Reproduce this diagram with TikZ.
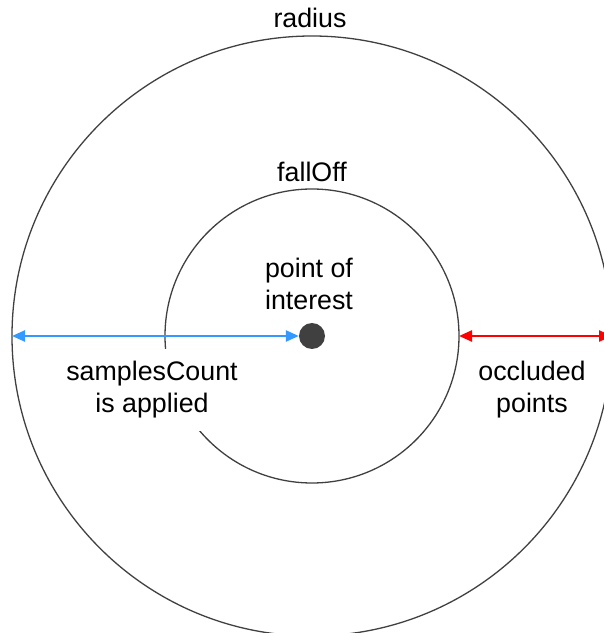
\documentclass[tikz,border=0pt]{standalone}
\usepackage{fontspec}
\setmainfont{Liberation Sans}
\usetikzlibrary{calc, arrows.meta, positioning}

\begin{document}
\begin{tikzpicture}[
    x=1pt, y=1pt,
    % Estilos
    ring/.style={draw=black!75, line width=1.3pt},
    dot poi/.style={circle, fill=black!75, inner sep=0pt, minimum size=26pt},
    label txt/.style={font=\fontsize{26.8}{32}\selectfont, align=center, inner sep=0pt},
    label box/.style={label txt, fill=white, inner sep=13pt},
    arrow samples/.style={{Triangle[length=13pt, width=11pt]}-{Triangle[length=13pt, width=11pt]}, line width=2.4pt, color={rgb,255:red,51;green,153;blue,255}},
    arrow occluded/.style={{Triangle[length=13pt, width=11pt]}-{Triangle[length=13pt, width=11pt]}, line width=2.4pt, red}
]
    \useasboundingbox (0,0) rectangle (604,633);
    \clip (0,0) rectangle (604,633);

    % =========================================================================
    % 1. Centro y circulos
    % =========================================================================
    \coordinate (c) at (312, 297);
    \draw[ring] (c) circle (300);
    \draw[ring] (c) circle (147);

    \coordinate (outerW) at ($(c)+(-300,0)$);
    \coordinate (innerE) at ($(c)+(147,0)$);
    \coordinate (outerE) at ($(c)+(300,0)$);

    % =========================================================================
    % 2. Etiquetas
    % =========================================================================
    \node[label txt] (radius) at (310, 615) {radius};
    \node[label txt] (falloff) at (312, 461) {fallOff};
    \node[label txt] (poiTxt) at (309, 349) {point of\\interest};
    \node[label box] (samples) at (152, 243) {samplesCount\\is applied};
    \node[label txt] (occluded) at (532, 243) {occluded\\points};

    % =========================================================================
    % 3. Punto de interes y flechas
    % =========================================================================
    \node[dot poi] (poi) at (c) {};
    \draw[arrow samples] (outerW) -- (poi.west);
    \draw[arrow occluded] (innerE) -- (outerE);

\end{tikzpicture}
\end{document}
